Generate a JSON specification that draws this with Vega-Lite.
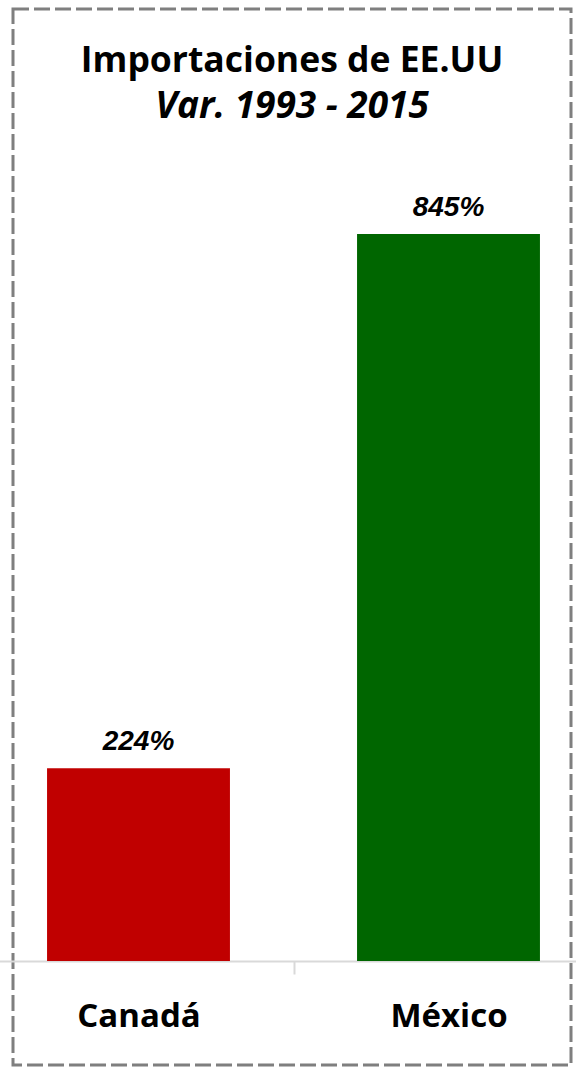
{
  "$schema": "https://vega.github.io/schema/vega-lite/v6.json",
  "autosize": {"type": "none"},
  "padding": {"left": 13, "top": 9, "right": 5, "bottom": 3},
  "width": 558,
  "height": 1056,
  "background": "white",
  "config": {"view": {"stroke": "#7f7f7f", "strokeWidth": 3, "strokeDash": [16, 5]}},
  "title": {
    "text": "Importaciones de EE.UU",
    "subtitle": "Var. 1993 - 2015",
    "anchor": "middle",
    "orient": "top",
    "offset": -116,
    "font": "Open Sans",
    "fontSize": 35.5,
    "fontWeight": "bold",
    "color": "black",
    "subtitleFont": "Open Sans",
    "subtitleFontSize": 37,
    "subtitleFontWeight": "bold",
    "subtitleFontStyle": "italic",
    "subtitleColor": "black",
    "subtitlePadding": 10
  },
  "data": {"values": [
    {"pais": "Canadá", "var": 224, "label": "224%"},
    {"pais": "México", "var": 845, "label": "845%"}
  ]},
  "encoding": {
    "x": {
      "field": "pais", "type": "nominal", "sort": null,
      "scale": {"range": [-29.5, 590.5], "paddingInner": 0.41, "paddingOuter": 0.205},
      "axis": {
        "title": null, "orient": "bottom", "offset": -104,
        "domainColor": "#d9d9d9", "domainWidth": 2,
        "tickColor": "#d9d9d9", "tickWidth": 2, "tickSize": 13,
        "tickOffset": 155, "labelOffset": -155,
        "labelFont": "Open Sans", "labelFontSize": 33, "labelFontWeight": "bold",
        "labelColor": "black", "labelPadding": 26, "labelAngle": 0, "grid": false
      }
    },
    "y": {
      "field": "var", "type": "quantitative",
      "scale": {"domain": [-120.9, 1106.5], "nice": false, "zero": false},
      "axis": null
    }
  },
  "layer": [
    {
      "mark": {"type": "bar"},
      "encoding": {
        "y2": {"datum": 0},
        "color": {"field": "pais", "type": "nominal", "scale": {"range": ["#C00000", "#006600"]}, "legend": null}
      }
    },
    {
      "mark": {"type": "text", "dy": -18, "baseline": "alphabetic", "font": "Liberation Sans", "fontSize": 28, "fontWeight": "bold", "fontStyle": "italic", "color": "black"},
      "encoding": {"text": {"field": "label"}}
    }
  ]
}
